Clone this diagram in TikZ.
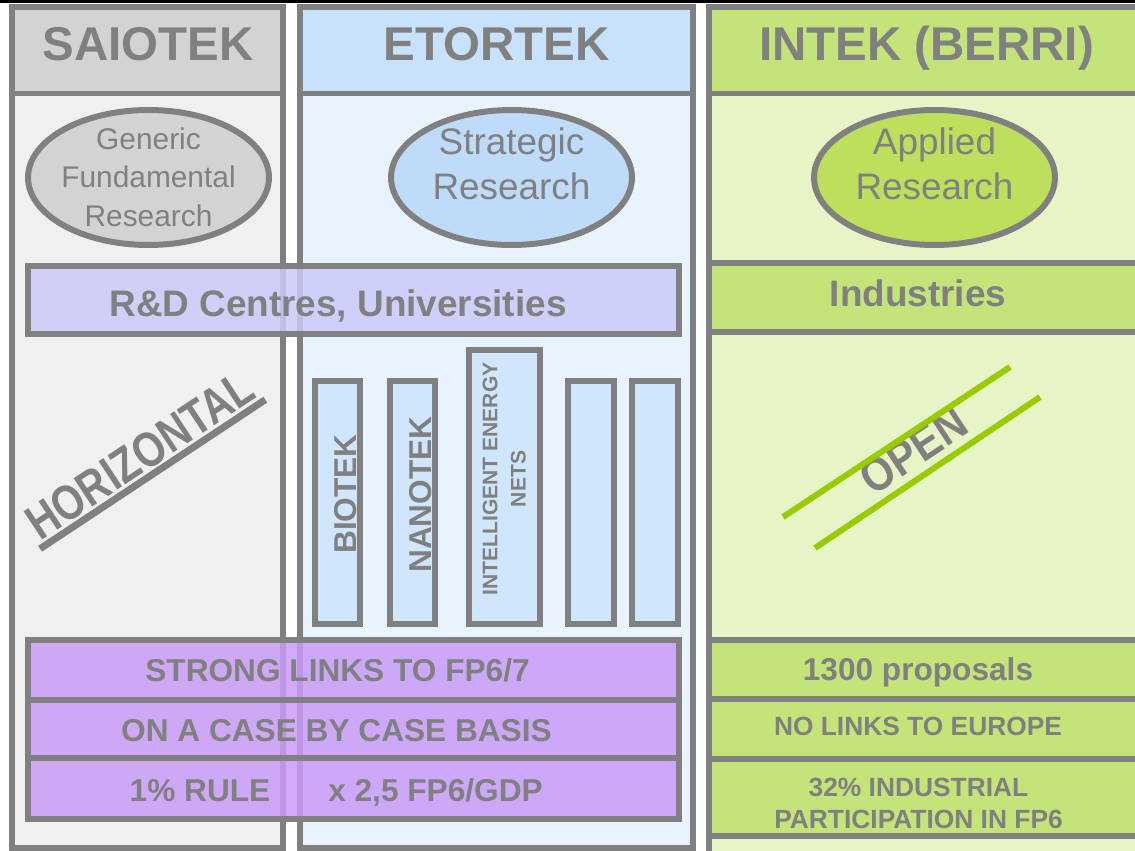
\documentclass[tikz,border=0pt]{standalone}
\usepackage{fontspec}
\setmainfont{Liberation Sans}
\usetikzlibrary{positioning,shapes.geometric}

\definecolor{linegray}{HTML}{808080}
\definecolor{saiohead}{HTML}{D3D3D3}
\definecolor{saiobody}{HTML}{F0F0F0}
\definecolor{saiooval}{HTML}{D3D3D3}
\definecolor{etorhead}{HTML}{C9E2FC}
\definecolor{etorbody}{HTML}{E9F3FE}
\definecolor{etoroval}{HTML}{BFDBFA}
\definecolor{etorbar}{HTML}{D0E6FC}
\definecolor{intehead}{HTML}{C4E47A}
\definecolor{intebody}{HTML}{E7F4C6}
\definecolor{inteoval}{HTML}{BDDF5C}
\definecolor{lavender}{HTML}{CACAFA}
\definecolor{lilac}{HTML}{C99BF7}
\definecolor{limeline}{HTML}{99CC00}

\begin{document}
\begin{tikzpicture}[
  x=0.02cm, y=-0.02cm,
  box/.style={
        draw=linegray,
        line width=3.4pt,
        rectangle,
        inner sep=0pt,
        outer sep=0pt
  },
  oval/.style={
        draw=linegray,
        line width=3.4pt,
        ellipse,
        minimum width=4.82cm,
        minimum height=2.7cm,
        inner sep=0pt
  },
  txt/.style={
        text=linegray,
        inner sep=0pt,
        align=center
  },
  lbl/.style={
        txt,
        text depth=0pt
  }
]

    \fill[white] (0,0) rectangle (1135,851);
    \useasboundingbox (0,0) rectangle (1135,851);
    \draw[line width=0.06cm] (0,1.5) -- (1135,1.5);

    % three columns
    \node[box, fill=saiohead, minimum width=5.43cm, minimum height=1.73cm] (H_1) at (147.75,50.25) {};
    \node[box, fill=saiobody, minimum width=5.43cm, minimum height=15.09cm, below=0pt of H_1] (C_1) {};
    \node[box, fill=etorhead, minimum width=7.86cm, minimum height=1.73cm] (H_2) at (496.5,50.25) {};
    \node[box, fill=etorbody, minimum width=7.86cm, minimum height=15.09cm, below=0pt of H_2] (C_2) {};
    \node[box, fill=intehead, minimum width=8.73cm, minimum height=1.73cm] (H_3) at (926.75,50.25) {};
    \node[box, fill=intebody, minimum width=8.73cm, minimum height=15.33cm, below=0pt of H_3] (C_3) {};

    \node[oval, fill=saiooval] (E_1) at (148.5,177.5) {};
    \node[oval, fill=etoroval] (E_2) at (511.5,177.5) {};
    \node[oval, fill=inteoval] (E_3) at (934.5,177.5) {};

    \node[box, fill=lavender, fill opacity=0.85, minimum width=13.02cm, minimum height=1.36cm] (R_1) at (353.5,300) {};
    \node[box, fill=intehead, minimum width=8.73cm, minimum height=1.38cm] (I_1) at (926.75,297.5) {};

    % ETORTEK bars
    \node[box, fill=etorbar, minimum width=0.9cm, minimum height=4.86cm] (BIO) at (337.5,502.5) {};
    \node[box, fill=etorbar, minimum width=0.9cm, minimum height=4.86cm, right=0.6cm of BIO] (NAN) {};
    \node[box, fill=etorbar, minimum width=1.42cm, minimum height=5.48cm, right=0.68cm of NAN.south east, anchor=south west] (IEN) {};
    \node[box, fill=etorbar, minimum width=0.92cm, minimum height=4.86cm, right=0.56cm of IEN.south east, anchor=south west] (B_4) {};
    \node[box, fill=etorbar, minimum width=0.92cm, minimum height=4.86cm, right=0.36cm of B_4] (B_5) {};

    % rows at the bottom
    \node[box, fill=lilac, fill opacity=0.85, minimum width=13.02cm, minimum height=1.2cm] (S_1) at (353.5,670) {};
    \node[box, fill=lilac, fill opacity=0.85, minimum width=13.02cm, minimum height=1.16cm, below=0pt of S_1] (S_2) {};
    \node[box, fill=lilac, fill opacity=0.85, minimum width=13.02cm, minimum height=1.22cm, below=0pt of S_2] (S_3) {};
    \node[box, fill=intehead, minimum width=8.73cm, minimum height=1.18cm] (P_1) at (926.75,669.5) {};
    \node[box, fill=intehead, minimum width=8.73cm, minimum height=1.2cm, below=0pt of P_1] (P_2) {};
    \node[box, fill=intehead, minimum width=8.73cm, minimum height=1.55cm, below=0pt of P_2] (P_3) {};

    % texts
    \node[lbl, font=\bfseries\fontsize{27}{32}\selectfont] (T_1) at (148,43.5) {SAIOTEK};
    \node[lbl, font=\bfseries\fontsize{27}{32}\selectfont] (T_2) at (496.5,43.5) {ETORTEK};
    \node[lbl, font=\bfseries\fontsize{27}{32}\selectfont] (T_3) at (926.5,43.5) {INTEK (BERRI)};

    \node[txt, font=\fontsize{17}{22}\selectfont] (G_1) at (148.5,177) {Generic\\Fundamental\\Research};
    \node[txt, font=\fontsize{21}{25.5}\selectfont] (G_2) at (511.5,164) {Strategic\\Research};
    \node[txt, font=\fontsize{21}{25.5}\selectfont] (G_3) at (934.5,164) {Applied\\Research};

    \node[lbl, font=\bfseries\fontsize{21}{25}\selectfont] (T_4) at (338,303) {R\&D Centres, Universities};
    \node[lbl, font=\bfseries\fontsize{21}{25}\selectfont] (T_5) at (918,293.5) {Industries};

    \node[lbl, rotate=90, font=\bfseries\fontsize{18}{22}\selectfont] (T_6) at (345,494) {BIOTEK};
    \node[lbl, rotate=90, font=\bfseries\fontsize{18}{22}\selectfont] (T_7) at (420,494.5) {NANOTEK};
    \node[txt, rotate=90, font=\bfseries\fontsize{12}{16.2}\selectfont] (T_8) at (504.25,479) {INTELLIGENT ENERGY\\NETS};

    \node[lbl, font=\bfseries\fontsize{18}{22}\selectfont] (T_9) at (337.5,670) {STRONG LINKS TO FP6/7};
    \node[lbl, font=\bfseries\fontsize{18}{22}\selectfont] (T_10) at (336.5,730) {ON A CASE BY CASE BASIS};
    \node[lbl, font=\bfseries\fontsize{18}{22}\selectfont] (T_11) at (200,790) {1\% RULE};
    \node[lbl, font=\bfseries\fontsize{18}{22}\selectfont] (T_12) at (435.5,790) {x 2,5 FP6/GDP};

    \node[lbl, font=\bfseries\fontsize{18}{22}\selectfont] (T_13) at (918,669) {1300 proposals};
    \node[lbl, font=\bfseries\fontsize{15}{18}\selectfont] (T_14) at (918,726) {NO LINKS TO EUROPE};
    \node[txt, font=\bfseries\fontsize{15}{18.2}\selectfont] (T_15) at (918.5,803) {32\% INDUSTRIAL\\PARTICIPATION IN FP6};

    % slanted words
    \node[lbl, rotate=33.5, inner xsep=0.08cm, inner ysep=0.11cm, font=\bfseries\fontsize{28}{32}\selectfont] (HOR) at (140,455) {\scalebox{0.82}[1]{HORIZONTAL}};
    \draw[linegray, line width=0.14cm] (HOR.south west) -- (HOR.south east);

    \node[lbl, rotate=33.5, font=\bfseries\fontsize{27}{31}\selectfont] (OPN) at (913,450) {\scalebox{0.87}[1]{OPEN}};
    \draw[limeline, line width=0.12cm] (783,517) -- (1010,367);
    \draw[limeline, line width=0.12cm] (815,548) -- (1040,397);
\end{tikzpicture}
\end{document}
